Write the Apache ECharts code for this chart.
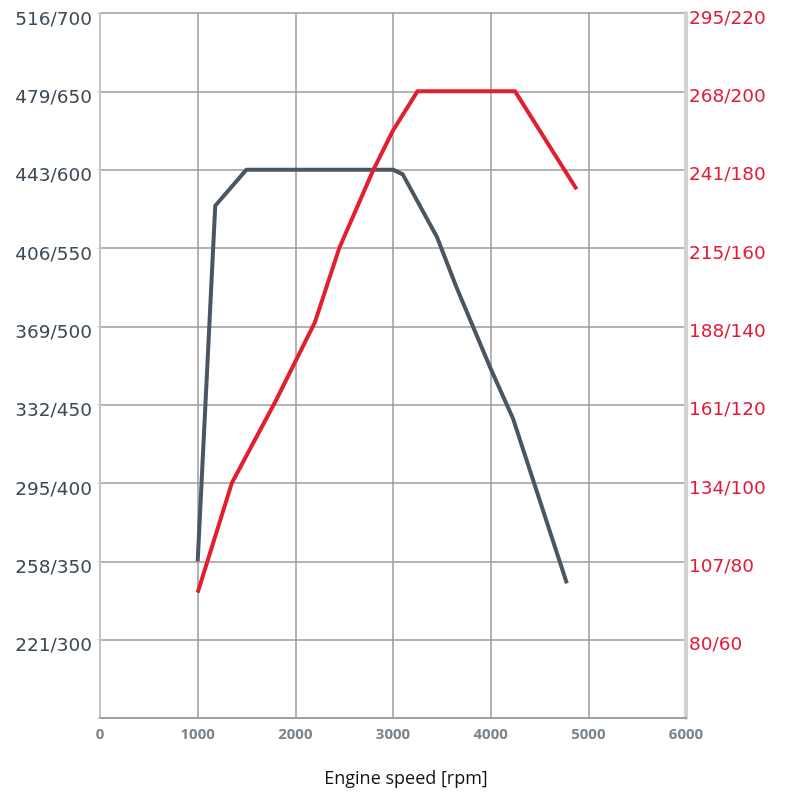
<!DOCTYPE html>
<html>
<head>
<meta charset="utf-8">
<script src="https://cdn.jsdelivr.net/npm/echarts@6/dist/echarts.min.js"></script>
<style>
  html, body { margin: 0; padding: 0; background: #fff; }
  #chart { width: 785px; height: 793px; }
</style>
</head>
<body>
<div id="chart"></div>
<script>
// engine speed (rpm) / torque (Nm)
const torqueRpm = [1000, 1180, 1500, 3000, 3100, 3450, 3650, 4000, 4230, 4780];
const torqueNm = [350, 577, 600, 600, 597, 557, 525, 473, 441, 336];

// engine speed (rpm) / power (kW)
const powerRpm = [1000, 1350, 1800, 2200, 2450, 2800, 3000, 3250, 4250, 4880];
const powerKw = [72, 100, 121, 141, 160, 180, 190, 200, 200, 175];

// tick labels (lb-ft / Nm) and (hp / kW)
const torqueTicks = [300, 350, 400, 450, 500, 550, 600, 650, 700];
const torqueLabels = ['221/300', '258/350', '295/400', '332/450', '369/500', '406/550', '443/600', '479/650', '516/700'];
const powerTicks = [60, 80, 100, 120, 140, 160, 180, 200, 220];
const powerLabels = ['80/60', '107/80', '134/100', '161/120', '188/140', '215/160', '241/180', '268/200', '295/220'];

const pair = (xs, ys) => xs.map((x, i) => [x, ys[i]]);

const chart = echarts.init(document.getElementById('chart'));

chart.setOption({
    backgroundColor: '#fff',
    animation: false,
    grid: { left: 100, right: 99, top: 13, bottom: 73 },
    xAxis: {
        type: 'value',
        min: 0,
        max: 6000,
        interval: 1000,
        name: 'Engine speed [rpm]',
        nameLocation: 'middle',
        nameGap: 52,
        nameTextStyle: { fontFamily: 'Open Sans', fontSize: 18, color: '#111', padding: [0, 0, 0, 26] },
        axisLine: { lineStyle: { color: '#a0a0a0', width: 2 } },
        axisTick: { show: false },
        axisLabel: {
            fontFamily: 'Open Sans',
            fontSize: 15,
            fontWeight: 'bold',
            color: '#7a848c',
            margin: 9,
            formatter: v => String(v),
        },
        splitLine: { lineStyle: { color: '#9a9a9a', width: 1.5 } },
    },
    yAxis: [
        {
            type: 'value',
            min: 250,
            max: 700,
            interval: 50,
            axisLine: { show: true, lineStyle: { color: '#c4c4c4', width: 2 } },
            axisTick: { show: true, length: 3, lineStyle: { color: '#d0d0d0' } },
            axisLabel: {
                fontFamily: 'DejaVu Sans',
                fontSize: 18.5,
                color: '#3c4a56',
                margin: 8,
                verticalAlign: 'top',
                lineHeight: 14,
                formatter: v => {
                    const i = torqueTicks.indexOf(v);
                    return i < 0 ? '' : torqueLabels[i];
                },
            },
            splitLine: { lineStyle: { color: '#9a9a9a', width: 1.5 } },
        },
        {
            type: 'value',
            min: 40,
            max: 220,
            interval: 20,
            position: 'right',
            axisLine: { show: true, lineStyle: { color: '#d2d2d2', width: 4 } },
            axisTick: { show: false },
            axisLabel: {
                fontFamily: 'DejaVu Sans',
                fontSize: 18.5,
                color: '#e31b37',
                margin: 3,
                verticalAlign: 'top',
                lineHeight: 12,
                formatter: v => {
                    const i = powerTicks.indexOf(v);
                    return i < 0 ? '' : powerLabels[i];
                },
            },
            splitLine: { show: false },
        },
    ],
    series: [
        {
            name: 'Torque',
            type: 'line',
            yAxisIndex: 0,
            data: pair(torqueRpm, torqueNm),
            symbol: 'none',
            lineStyle: { color: '#4a5661', width: 4, join: 'round' },
            z: 3,
        },
        {
            name: 'Power',
            type: 'line',
            yAxisIndex: 1,
            data: pair(powerRpm, powerKw),
            symbol: 'none',
            lineStyle: { color: '#e0202f', width: 4, join: 'round' },
            z: 4,
        },
    ],
});
</script>
</body>
</html>
